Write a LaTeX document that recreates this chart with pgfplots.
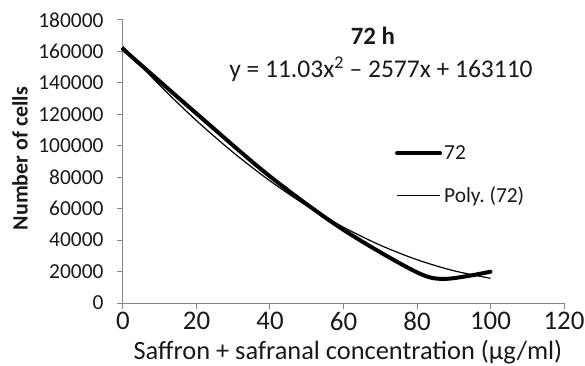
\documentclass[border=0pt]{standalone}
\usepackage{pgfplots}
\pgfplotsset{compat=1.18}
\usepackage{fontspec}
\setmainfont{Carlito}
\definecolor{axisgray}{RGB}{134,134,134}
\definecolor{textc}{RGB}{25,25,25}
\begin{document}
\frenchspacing
\begin{tikzpicture}
\begin{axis}[
  at={(0,0)}, anchor=origin,
  scale only axis, width=441bp, height=283bp,
  xmin=0, xmax=120, ymin=0, ymax=180000,
  axis lines*=left,
  axis line style={draw=axisgray, line width=1bp},
  xtick={0,20,...,120}, ytick={0,20000,...,180000},
  tick align=outside, major tick length=6bp,
  tick style={draw=axisgray, line width=1bp},
  scaled y ticks=false,
  yticklabel style={/pgf/number format/fixed, /pgf/number format/1000 sep={}},
  /pgf/number format/assume math mode=true,
  yticklabel style={font=\fontsize{21.5}{24}\selectfont, text=textc, xshift=-10bp},
  xticklabel style={font=\fontsize{27}{30}\selectfont, text=textc, yshift=0bp},
  xlabel={Saffron + safranal concentration (µg/ml)},
  ylabel={\bfseries Number of cells},
  xlabel style={font=\fontsize{26.5}{30}\selectfont, text=textc, at={(axis description cs:0.51,-0.175)}, anchor=center},
  ylabel style={font=\fontsize{22}{26}\selectfont, text=textc, at={(axis description cs:-0.2336,0.51)}, anchor=center, rotate=0},
  clip=false,
  legend style={draw=none, fill=none, at={(axis cs:74,101500)}, anchor=north west,
    font=\fontsize{21.5}{24}\selectfont, text=textc, row sep=22bp, inner sep=0pt,
    nodes={inner sep=2bp}},
  legend cell align=left,
  legend image code/.code={\draw[#1] (0bp,0bp) -- (43bp,0bp);},
]
\addplot[black, line width=4bp, smooth, line join=round, line cap=round] coordinates {
  (0,161500) (20,120500) (40,80500) (60,46500) (80,19500) (88,15400) (100,19900)
};
\addlegendentry{72}
\addplot[black, line width=1.2bp, smooth] coordinates {
  (0,163110) (10,138443) (20,115982) (30,95727) (40,77678) (50,61835)
  (60,48198) (70,36767) (80,27542) (90,20523) (100,15710)
};
\addlegendentry{Poly. (72)}
\node[font=\fontsize{25}{28}\selectfont\bfseries, text=textc] at (axis cs:68,169800) {72 h};
\node[font=\fontsize{25.6}{28}\selectfont, text=textc] at (axis cs:70.2,148800) {y = 11.03x\textsuperscript{2} – 2577x + 163110};
\end{axis}
\pgfresetboundingbox
\path[use as bounding box] (-123bp,-63bp) rectangle (462bp,303bp);
\end{tikzpicture}
\end{document}
